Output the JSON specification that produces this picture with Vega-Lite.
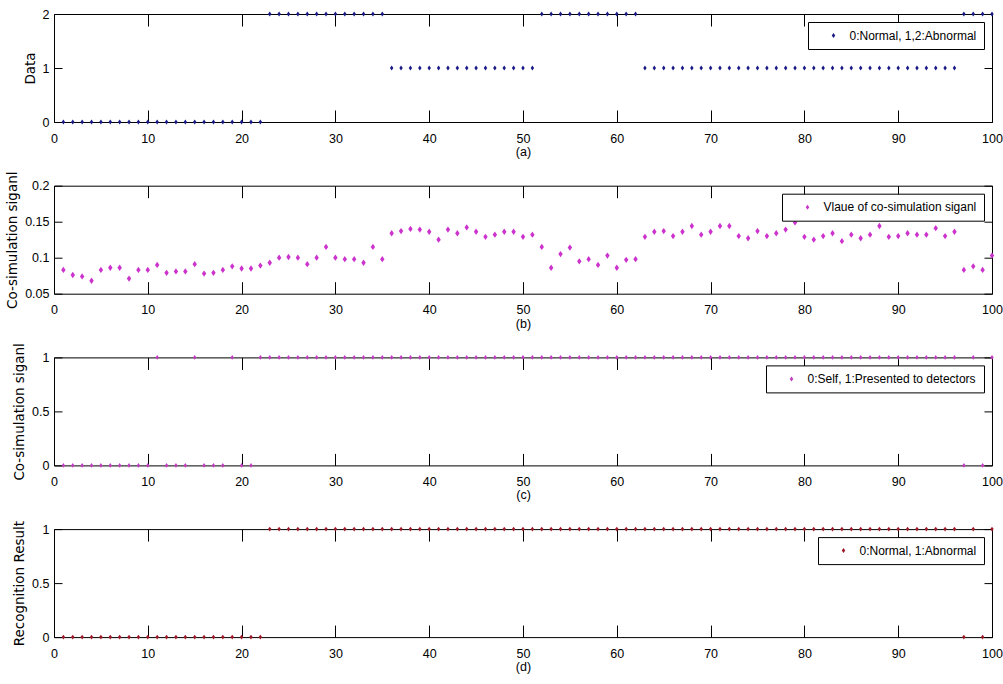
{
  "$schema": "https://vega.github.io/schema/vega-lite/v6.json",
  "background": "white",
  "padding": {"left": 5, "top": 7, "right": 1, "bottom": 2},
  "datasets": {
    "a": [
      {"x":1,"v":0},{"x":2,"v":0},{"x":3,"v":0},{"x":4,"v":0},{"x":5,"v":0},{"x":6,"v":0},{"x":7,"v":0},{"x":8,"v":0},{"x":9,"v":0},{"x":10,"v":0},
      {"x":11,"v":0},{"x":12,"v":0},{"x":13,"v":0},{"x":14,"v":0},{"x":15,"v":0},{"x":16,"v":0},{"x":17,"v":0},{"x":18,"v":0},{"x":19,"v":0},{"x":20,"v":0},
      {"x":21,"v":0},{"x":22,"v":0},{"x":23,"v":2},{"x":24,"v":2},{"x":25,"v":2},{"x":26,"v":2},{"x":27,"v":2},{"x":28,"v":2},{"x":29,"v":2},{"x":30,"v":2},
      {"x":31,"v":2},{"x":32,"v":2},{"x":33,"v":2},{"x":34,"v":2},{"x":35,"v":2},{"x":36,"v":1},{"x":37,"v":1},{"x":38,"v":1},{"x":39,"v":1},{"x":40,"v":1},
      {"x":41,"v":1},{"x":42,"v":1},{"x":43,"v":1},{"x":44,"v":1},{"x":45,"v":1},{"x":46,"v":1},{"x":47,"v":1},{"x":48,"v":1},{"x":49,"v":1},{"x":50,"v":1},
      {"x":51,"v":1},{"x":52,"v":2},{"x":53,"v":2},{"x":54,"v":2},{"x":55,"v":2},{"x":56,"v":2},{"x":57,"v":2},{"x":58,"v":2},{"x":59,"v":2},{"x":60,"v":2},
      {"x":61,"v":2},{"x":62,"v":2},{"x":63,"v":1},{"x":64,"v":1},{"x":65,"v":1},{"x":66,"v":1},{"x":67,"v":1},{"x":68,"v":1},{"x":69,"v":1},{"x":70,"v":1},
      {"x":71,"v":1},{"x":72,"v":1},{"x":73,"v":1},{"x":74,"v":1},{"x":75,"v":1},{"x":76,"v":1},{"x":77,"v":1},{"x":78,"v":1},{"x":79,"v":1},{"x":80,"v":1},
      {"x":81,"v":1},{"x":82,"v":1},{"x":83,"v":1},{"x":84,"v":1},{"x":85,"v":1},{"x":86,"v":1},{"x":87,"v":1},{"x":88,"v":1},{"x":89,"v":1},{"x":90,"v":1},
      {"x":91,"v":1},{"x":92,"v":1},{"x":93,"v":1},{"x":94,"v":1},{"x":95,"v":1},{"x":96,"v":1},{"x":97,"v":2},{"x":98,"v":2},{"x":99,"v":2},{"x":100,"v":2}
    ],
    "b": [
      {"x":1,"v":0.083},{"x":2,"v":0.076},{"x":3,"v":0.074},{"x":4,"v":0.068},{"x":5,"v":0.083},{"x":6,"v":0.086},{"x":7,"v":0.086},{"x":8,"v":0.071},{"x":9,"v":0.083},{"x":10,"v":0.083},
      {"x":11,"v":0.090},{"x":12,"v":0.079},{"x":13,"v":0.081},{"x":14,"v":0.081},{"x":15,"v":0.091},{"x":16,"v":0.078},{"x":17,"v":0.079},{"x":18,"v":0.083},{"x":19,"v":0.088},{"x":20,"v":0.085},
      {"x":21,"v":0.085},{"x":22,"v":0.089},{"x":23,"v":0.093},{"x":24,"v":0.100},{"x":25,"v":0.101},{"x":26,"v":0.100},{"x":27,"v":0.091},{"x":28,"v":0.100},{"x":29,"v":0.115},{"x":30,"v":0.100},
      {"x":31,"v":0.098},{"x":32,"v":0.098},{"x":33,"v":0.093},{"x":34,"v":0.115},{"x":35,"v":0.098},{"x":36,"v":0.134},{"x":37,"v":0.137},{"x":38,"v":0.140},{"x":39,"v":0.139},{"x":40,"v":0.136},
      {"x":41,"v":0.125},{"x":42,"v":0.139},{"x":43,"v":0.134},{"x":44,"v":0.142},{"x":45,"v":0.136},{"x":46,"v":0.129},{"x":47,"v":0.132},{"x":48,"v":0.136},{"x":49,"v":0.136},{"x":50,"v":0.129},
      {"x":51,"v":0.132},{"x":52,"v":0.115},{"x":53,"v":0.086},{"x":54,"v":0.105},{"x":55,"v":0.114},{"x":56,"v":0.095},{"x":57,"v":0.098},{"x":58,"v":0.090},{"x":59,"v":0.103},{"x":60,"v":0.086},
      {"x":61,"v":0.097},{"x":62,"v":0.098},{"x":63,"v":0.129},{"x":64,"v":0.136},{"x":65,"v":0.137},{"x":66,"v":0.130},{"x":67,"v":0.136},{"x":68,"v":0.144},{"x":69,"v":0.132},{"x":70,"v":0.136},
      {"x":71,"v":0.144},{"x":72,"v":0.144},{"x":73,"v":0.130},{"x":74,"v":0.127},{"x":75,"v":0.137},{"x":76,"v":0.130},{"x":77,"v":0.134},{"x":78,"v":0.139},{"x":79,"v":0.149},{"x":80,"v":0.129},
      {"x":81,"v":0.125},{"x":82,"v":0.130},{"x":83,"v":0.134},{"x":84,"v":0.123},{"x":85,"v":0.132},{"x":86,"v":0.127},{"x":87,"v":0.132},{"x":88,"v":0.144},{"x":89,"v":0.129},{"x":90,"v":0.130},
      {"x":91,"v":0.134},{"x":92,"v":0.132},{"x":93,"v":0.132},{"x":94,"v":0.141},{"x":95,"v":0.130},{"x":96,"v":0.136},{"x":97,"v":0.083},{"x":98,"v":0.088},{"x":99,"v":0.083},{"x":100,"v":0.103}
    ],
    "c": [
      {"x":1,"v":0},{"x":2,"v":0},{"x":3,"v":0},{"x":4,"v":0},{"x":5,"v":0},{"x":6,"v":0},{"x":7,"v":0},{"x":8,"v":0},{"x":9,"v":0},{"x":10,"v":0},
      {"x":11,"v":1},{"x":12,"v":0},{"x":13,"v":0},{"x":14,"v":0},{"x":15,"v":1},{"x":16,"v":0},{"x":17,"v":0},{"x":18,"v":0},{"x":19,"v":1},{"x":20,"v":0},
      {"x":21,"v":0},{"x":22,"v":1},{"x":23,"v":1},{"x":24,"v":1},{"x":25,"v":1},{"x":26,"v":1},{"x":27,"v":1},{"x":28,"v":1},{"x":29,"v":1},{"x":30,"v":1},
      {"x":31,"v":1},{"x":32,"v":1},{"x":33,"v":1},{"x":34,"v":1},{"x":35,"v":1},{"x":36,"v":1},{"x":37,"v":1},{"x":38,"v":1},{"x":39,"v":1},{"x":40,"v":1},
      {"x":41,"v":1},{"x":42,"v":1},{"x":43,"v":1},{"x":44,"v":1},{"x":45,"v":1},{"x":46,"v":1},{"x":47,"v":1},{"x":48,"v":1},{"x":49,"v":1},{"x":50,"v":1},
      {"x":51,"v":1},{"x":52,"v":1},{"x":53,"v":1},{"x":54,"v":1},{"x":55,"v":1},{"x":56,"v":1},{"x":57,"v":1},{"x":58,"v":1},{"x":59,"v":1},{"x":60,"v":1},
      {"x":61,"v":1},{"x":62,"v":1},{"x":63,"v":1},{"x":64,"v":1},{"x":65,"v":1},{"x":66,"v":1},{"x":67,"v":1},{"x":68,"v":1},{"x":69,"v":1},{"x":70,"v":1},
      {"x":71,"v":1},{"x":72,"v":1},{"x":73,"v":1},{"x":74,"v":1},{"x":75,"v":1},{"x":76,"v":1},{"x":77,"v":1},{"x":78,"v":1},{"x":79,"v":1},{"x":80,"v":1},
      {"x":81,"v":1},{"x":82,"v":1},{"x":83,"v":1},{"x":84,"v":1},{"x":85,"v":1},{"x":86,"v":1},{"x":87,"v":1},{"x":88,"v":1},{"x":89,"v":1},{"x":90,"v":1},
      {"x":91,"v":1},{"x":92,"v":1},{"x":93,"v":1},{"x":94,"v":1},{"x":95,"v":1},{"x":96,"v":1},{"x":97,"v":0},{"x":98,"v":1},{"x":99,"v":0},{"x":100,"v":1}
    ],
    "d": [
      {"x":1,"v":0},{"x":2,"v":0},{"x":3,"v":0},{"x":4,"v":0},{"x":5,"v":0},{"x":6,"v":0},{"x":7,"v":0},{"x":8,"v":0},{"x":9,"v":0},{"x":10,"v":0},
      {"x":11,"v":0},{"x":12,"v":0},{"x":13,"v":0},{"x":14,"v":0},{"x":15,"v":0},{"x":16,"v":0},{"x":17,"v":0},{"x":18,"v":0},{"x":19,"v":0},{"x":20,"v":0},
      {"x":21,"v":0},{"x":22,"v":0},{"x":23,"v":1},{"x":24,"v":1},{"x":25,"v":1},{"x":26,"v":1},{"x":27,"v":1},{"x":28,"v":1},{"x":29,"v":1},{"x":30,"v":1},
      {"x":31,"v":1},{"x":32,"v":1},{"x":33,"v":1},{"x":34,"v":1},{"x":35,"v":1},{"x":36,"v":1},{"x":37,"v":1},{"x":38,"v":1},{"x":39,"v":1},{"x":40,"v":1},
      {"x":41,"v":1},{"x":42,"v":1},{"x":43,"v":1},{"x":44,"v":1},{"x":45,"v":1},{"x":46,"v":1},{"x":47,"v":1},{"x":48,"v":1},{"x":49,"v":1},{"x":50,"v":1},
      {"x":51,"v":1},{"x":52,"v":1},{"x":53,"v":1},{"x":54,"v":1},{"x":55,"v":1},{"x":56,"v":1},{"x":57,"v":1},{"x":58,"v":1},{"x":59,"v":1},{"x":60,"v":1},
      {"x":61,"v":1},{"x":62,"v":1},{"x":63,"v":1},{"x":64,"v":1},{"x":65,"v":1},{"x":66,"v":1},{"x":67,"v":1},{"x":68,"v":1},{"x":69,"v":1},{"x":70,"v":1},
      {"x":71,"v":1},{"x":72,"v":1},{"x":73,"v":1},{"x":74,"v":1},{"x":75,"v":1},{"x":76,"v":1},{"x":77,"v":1},{"x":78,"v":1},{"x":79,"v":1},{"x":80,"v":1},
      {"x":81,"v":1},{"x":82,"v":1},{"x":83,"v":1},{"x":84,"v":1},{"x":85,"v":1},{"x":86,"v":1},{"x":87,"v":1},{"x":88,"v":1},{"x":89,"v":1},{"x":90,"v":1},
      {"x":91,"v":1},{"x":92,"v":1},{"x":93,"v":1},{"x":94,"v":1},{"x":95,"v":1},{"x":96,"v":1},{"x":97,"v":0},{"x":98,"v":1},{"x":99,"v":0},{"x":100,"v":1}
    ]
  },
  "bounds": "flush",
  "spacing": 63.7,
  "resolve": {"scale": {"x": "independent", "y": "independent", "color": "independent"}},
  "vconcat": [
    {
      "width": 938, "height": 108,
      "data": {"name": "a"},
      "layer": [
        {
          "mark": {"type": "point", "shape": "M-0.7,0L0,1L0.7,0L0,-1Z", "filled": true, "size": 24, "opacity": 1},
          "encoding": {
            "x": {"field": "x", "type": "quantitative", "scale": {"domain": [0, 100], "nice": false}, "axis": {"orient": "bottom", "title": "(a)", "values": [0,10,20,30,40,50,60,70,80,90,100]}},
            "y": {"field": "v", "type": "quantitative", "scale": {"domain": [0, 2], "nice": false, "zero": false}, "axis": {"orient": "left", "title": "Data", "values": [0,1,2], "format": "~g"}},
            "color": {"datum": "0:Normal, 1,2:Abnormal", "type": "nominal", "scale": {"range": ["#1a1a86"]}, "legend": {"title": null}}
          }
        },
        {
          "mark": {"type": "point", "opacity": 0},
          "encoding": {
            "x": {"field": "x", "type": "quantitative", "axis": {"orient": "top", "title": null, "labels": false, "values": [0,10,20,30,40,50,60,70,80,90,100]}},
            "y": {"field": "v", "type": "quantitative", "axis": {"orient": "right", "title": null, "labels": false, "values": [0,1,2]}}
          }
        }
      ],
      "resolve": {"axis": {"x": "independent", "y": "independent"}}
    },
    {
      "width": 938, "height": 108,
      "data": {"name": "b"},
      "layer": [
        {
          "mark": {"type": "point", "shape": "M-0.7,0L0,1L0.7,0L0,-1Z", "filled": true, "size": 40, "opacity": 1},
          "encoding": {
            "x": {"field": "x", "type": "quantitative", "scale": {"domain": [0, 100], "nice": false}, "axis": {"orient": "bottom", "title": "(b)", "values": [0,10,20,30,40,50,60,70,80,90,100]}},
            "y": {"field": "v", "type": "quantitative", "scale": {"domain": [0.05, 0.2], "nice": false, "zero": false}, "axis": {"orient": "left", "title": "Co-simulation siganl", "values": [0.05,0.1,0.15,0.2], "format": "~g"}},
            "color": {"datum": "Vlaue of co-simulation siganl", "type": "nominal", "scale": {"range": ["#cc33cc"]}, "legend": {"title": null}}
          }
        },
        {
          "mark": {"type": "point", "opacity": 0},
          "encoding": {
            "x": {"field": "x", "type": "quantitative", "axis": {"orient": "top", "title": null, "labels": false, "values": [0,10,20,30,40,50,60,70,80,90,100]}},
            "y": {"field": "v", "type": "quantitative", "axis": {"orient": "right", "title": null, "labels": false, "values": [0.05,0.1,0.15,0.2]}}
          }
        }
      ],
      "resolve": {"axis": {"x": "independent", "y": "independent"}}
    },
    {
      "width": 938, "height": 108,
      "data": {"name": "c"},
      "layer": [
        {
          "mark": {"type": "point", "shape": "M-0.7,0L0,1L0.7,0L0,-1Z", "filled": true, "size": 24, "opacity": 1},
          "encoding": {
            "x": {"field": "x", "type": "quantitative", "scale": {"domain": [0, 100], "nice": false}, "axis": {"orient": "bottom", "title": "(c)", "values": [0,10,20,30,40,50,60,70,80,90,100]}},
            "y": {"field": "v", "type": "quantitative", "scale": {"domain": [0, 1], "nice": false, "zero": false}, "axis": {"orient": "left", "title": "Co-simulation siganl", "values": [0,0.5,1], "format": "~g"}},
            "color": {"datum": "0:Self, 1:Presented to detectors", "type": "nominal", "scale": {"range": ["#c03cc0"]}, "legend": {"title": null}}
          }
        },
        {
          "mark": {"type": "point", "opacity": 0},
          "encoding": {
            "x": {"field": "x", "type": "quantitative", "axis": {"orient": "top", "title": null, "labels": false, "values": [0,10,20,30,40,50,60,70,80,90,100]}},
            "y": {"field": "v", "type": "quantitative", "axis": {"orient": "right", "title": null, "labels": false, "values": [0,0.5,1]}}
          }
        }
      ],
      "resolve": {"axis": {"x": "independent", "y": "independent"}}
    },
    {
      "width": 938, "height": 108,
      "data": {"name": "d"},
      "layer": [
        {
          "mark": {"type": "point", "shape": "M-0.7,0L0,1L0.7,0L0,-1Z", "filled": true, "size": 24, "opacity": 1},
          "encoding": {
            "x": {"field": "x", "type": "quantitative", "scale": {"domain": [0, 100], "nice": false}, "axis": {"orient": "bottom", "title": "(d)", "values": [0,10,20,30,40,50,60,70,80,90,100]}},
            "y": {"field": "v", "type": "quantitative", "scale": {"domain": [0, 1], "nice": false, "zero": false}, "axis": {"orient": "left", "title": "Recognition Result", "values": [0,0.5,1], "format": "~g"}},
            "color": {"datum": "0:Normal, 1:Abnormal", "type": "nominal", "scale": {"range": ["#a01828"]}, "legend": {"title": null}}
          }
        },
        {
          "mark": {"type": "point", "opacity": 0},
          "encoding": {
            "x": {"field": "x", "type": "quantitative", "axis": {"orient": "top", "title": null, "labels": false, "values": [0,10,20,30,40,50,60,70,80,90,100]}},
            "y": {"field": "v", "type": "quantitative", "axis": {"orient": "right", "title": null, "labels": false, "values": [0,0.5,1]}}
          }
        }
      ],
      "resolve": {"axis": {"x": "independent", "y": "independent"}}
    }
  ],
  "config": {
    "view": {"stroke": "black", "strokeWidth": 1},
    "axis": {
      "grid": false, "domain": false, "tickColor": "black", "tickWidth": 1,
      "labelColor": "black", "titleColor": "black",
      "labelFont": "Liberation Sans", "labelFontSize": 12.5, "labelFlush": false,
      "titleFontWeight": "normal"
    },
    "axisBottom": {"tickSize": -12, "labelPadding": 22, "titleFont": "Liberation Sans", "titleFontSize": 12.5, "titlePadding": 1},
    "axisTop": {"tickSize": -12},
    "axisLeft": {"tickSize": -8, "labelPadding": 13, "titleFont": "DejaVu Sans", "titleFontSize": 13.5, "titlePadding": 5},
    "axisRight": {"tickSize": -8},
    "legend": {
      "orient": "top-right", "offset": 8, "strokeColor": "black", "fillColor": "white",
      "padding": 7.5, "cornerRadius": 0, "labelLimit": 400,
      "symbolType": "M-0.7,0L0,1L0.7,0L0,-1Z", "symbolSize": 25, "symbolStrokeWidth": 0,
      "symbolOffset": 12, "labelOffset": 10,
      "labelFont": "Liberation Sans", "labelFontSize": 12, "labelColor": "black"
    }
  }
}
